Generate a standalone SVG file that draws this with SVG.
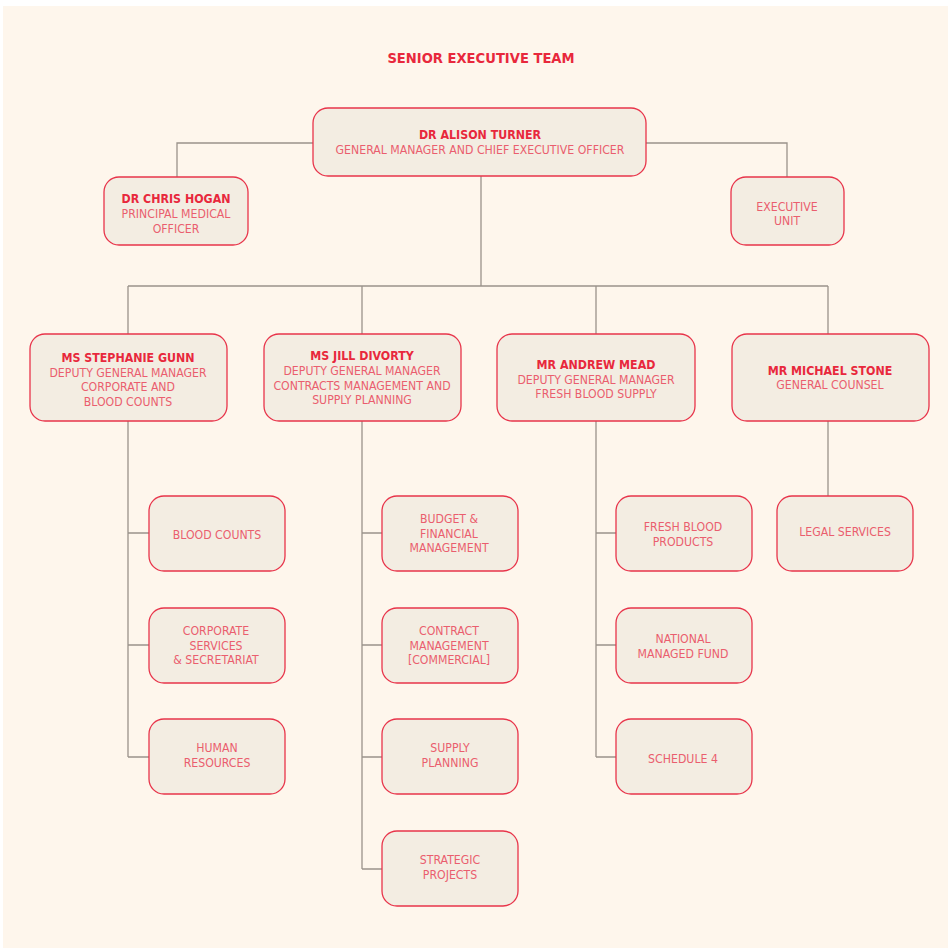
<svg xmlns="http://www.w3.org/2000/svg" width="948" height="948" viewBox="0 0 948 948">
<style>
.bg{fill:#fef6ec}
.box{fill:#f3ede2;stroke:#e8344a;stroke-width:1.3}
.ln{stroke:#9a928a;stroke-width:1.3;fill:none}
text{font-family:"DejaVu Sans Condensed","Roboto","Liberation Sans",sans-serif;text-anchor:middle;font-size:12.2px}
.t{fill:#e8283c;font-weight:bold;font-size:14.6px}
.n{fill:#e8283c;font-weight:bold;font-size:12.3px}
.s{fill:#ea5e6e}
</style>
<rect x="0" y="0" width="948" height="948" fill="#ffffff"/>
<rect class="bg" x="3" y="6" width="945" height="942"/>
<text class="t" x="481" y="63">SENIOR EXECUTIVE TEAM</text>
<g id="connectors">
<path class="ln" d="M313 143H177V177M646 143H787V177"/>
<path class="ln" d="M481 176V286M128 286H828M128 286V334M362 286V334M596 286V334M828 286V334"/>
<path class="ln" d="M128 421V757M128 533H149M128 645H149M128 757H149"/>
<path class="ln" d="M362 421V869M362 533H382M362 645H382M362 757H382M362 869H382"/>
<path class="ln" d="M596 421V757M596 533H616M596 645H616M596 757H616"/>
<path class="ln" d="M828 421V496"/>
</g>
<g id="turner"><rect class="box" x="313" y="108" width="333" height="68" rx="15"/>
<text class="n" x="480" y="139">DR ALISON TURNER</text>
<text class="s" x="480" y="154">GENERAL MANAGER AND CHIEF EXECUTIVE OFFICER</text></g>
<g id="hogan"><rect class="box" x="104" y="177" width="144" height="68" rx="15"/>
<text class="n" x="176" y="203">DR CHRIS HOGAN</text>
<text class="s" x="176" y="218">PRINCIPAL MEDICAL</text>
<text class="s" x="176" y="233">OFFICER</text></g>
<g id="exec"><rect class="box" x="731" y="177" width="113" height="68" rx="15"/>
<text class="s" x="787" y="211">EXECUTIVE</text>
<text class="s" x="787" y="225">UNIT</text></g>
<g id="gunn"><rect class="box" x="30" y="334" width="197" height="87" rx="15"/>
<text class="n" x="128" y="362">MS STEPHANIE GUNN</text>
<text class="s" x="128" y="377">DEPUTY GENERAL MANAGER</text>
<text class="s" x="128" y="391">CORPORATE AND</text>
<text class="s" x="128" y="406">BLOOD COUNTS</text></g>
<g id="divorty"><rect class="box" x="264" y="334" width="197" height="87" rx="15"/>
<text class="n" x="362" y="360">MS JILL DIVORTY</text>
<text class="s" x="362" y="375">DEPUTY GENERAL MANAGER</text>
<text class="s" x="362" y="390">CONTRACTS MANAGEMENT AND</text>
<text class="s" x="362" y="404">SUPPLY PLANNING</text></g>
<g id="mead"><rect class="box" x="497" y="334" width="198" height="87" rx="15"/>
<text class="n" x="596" y="369">MR ANDREW MEAD</text>
<text class="s" x="596" y="384">DEPUTY GENERAL MANAGER</text>
<text class="s" x="596" y="398">FRESH BLOOD SUPPLY</text></g>
<g id="stone"><rect class="box" x="732" y="334" width="197" height="87" rx="15"/>
<text class="n" x="830" y="375">MR MICHAEL STONE</text>
<text class="s" x="830" y="389">GENERAL COUNSEL</text></g>
<g id="bloodcounts"><rect class="box" x="149" y="496" width="136" height="75" rx="15"/>
<text class="s" x="217" y="539">BLOOD COUNTS</text></g>
<g id="corporate"><rect class="box" x="149" y="608" width="136" height="75" rx="15"/>
<text class="s" x="216" y="635">CORPORATE</text>
<text class="s" x="216" y="650">SERVICES</text>
<text class="s" x="216" y="664">&amp; SECRETARIAT</text></g>
<g id="hr"><rect class="box" x="149" y="719" width="136" height="75" rx="15"/>
<text class="s" x="217" y="752">HUMAN</text>
<text class="s" x="217" y="767">RESOURCES</text></g>
<g id="budget"><rect class="box" x="382" y="496" width="136" height="75" rx="15"/>
<text class="s" x="449" y="523">BUDGET &amp;</text>
<text class="s" x="449" y="538">FINANCIAL</text>
<text class="s" x="449" y="552">MANAGEMENT</text></g>
<g id="contract"><rect class="box" x="382" y="608" width="136" height="75" rx="15"/>
<text class="s" x="449" y="635">CONTRACT</text>
<text class="s" x="449" y="650">MANAGEMENT</text>
<text class="s" x="449" y="664">[COMMERCIAL]</text></g>
<g id="supply"><rect class="box" x="382" y="719" width="136" height="75" rx="15"/>
<text class="s" x="450" y="752">SUPPLY</text>
<text class="s" x="450" y="767">PLANNING</text></g>
<g id="strategic"><rect class="box" x="382" y="831" width="136" height="75" rx="15"/>
<text class="s" x="450" y="864">STRATEGIC</text>
<text class="s" x="450" y="879">PROJECTS</text></g>
<g id="fresh"><rect class="box" x="616" y="496" width="136" height="75" rx="15"/>
<text class="s" x="683" y="531">FRESH BLOOD</text>
<text class="s" x="683" y="546">PRODUCTS</text></g>
<g id="national"><rect class="box" x="616" y="608" width="136" height="75" rx="15"/>
<text class="s" x="683" y="643">NATIONAL</text>
<text class="s" x="683" y="658">MANAGED FUND</text></g>
<g id="schedule"><rect class="box" x="616" y="719" width="136" height="75" rx="15"/>
<text class="s" x="683" y="763">SCHEDULE 4</text></g>
<g id="legal"><rect class="box" x="777" y="496" width="136" height="75" rx="15"/>
<text class="s" x="845" y="536">LEGAL SERVICES</text></g>
</svg>
